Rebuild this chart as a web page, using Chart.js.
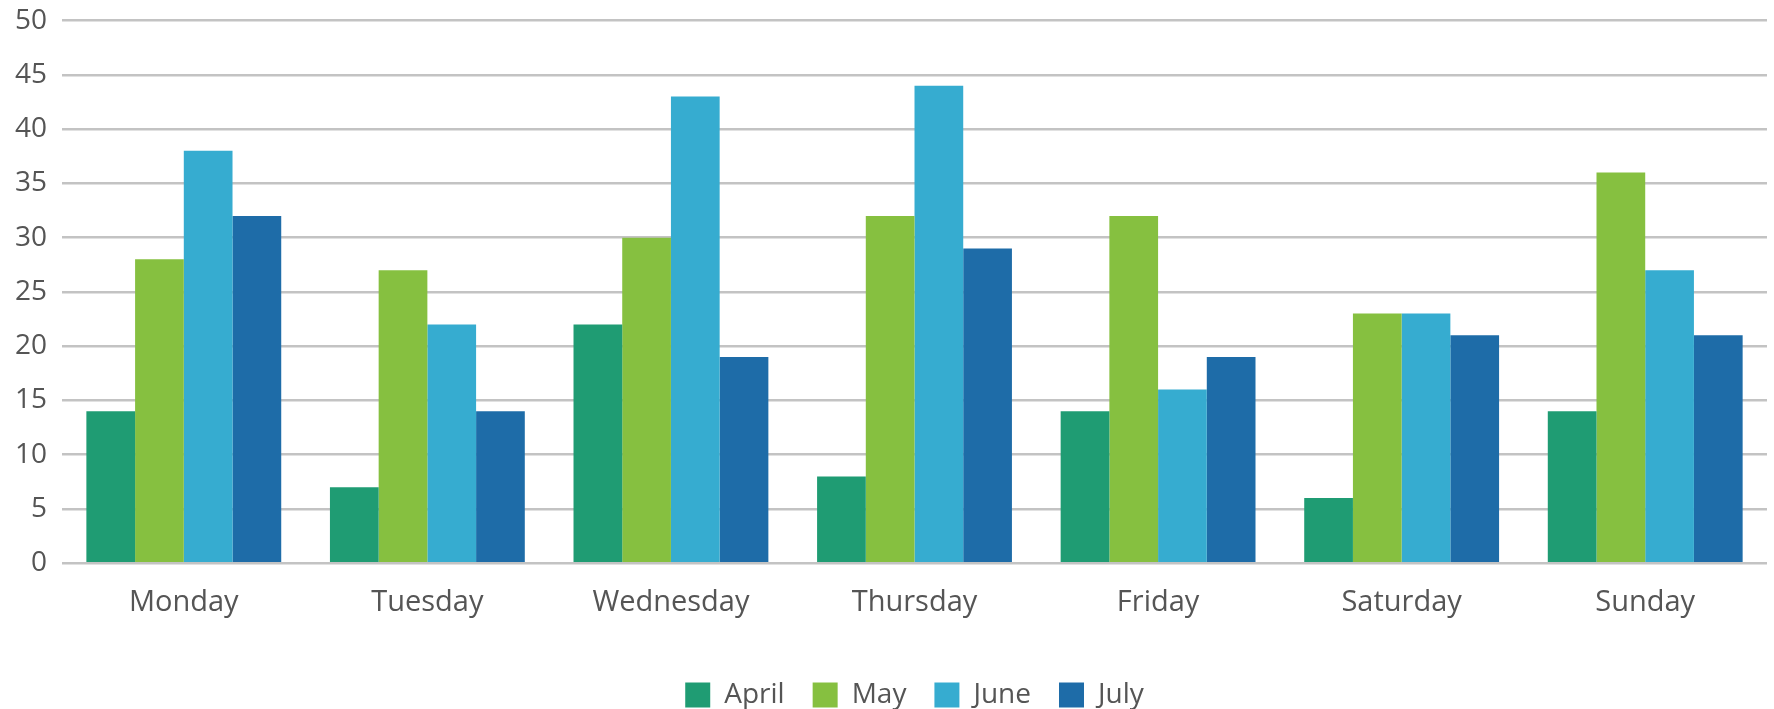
<!DOCTYPE html>
<html>
<head>
<meta charset="utf-8">
<script src="https://cdn.jsdelivr.net/npm/chart.js@4"></script>
<style>
  html, body { margin: 0; padding: 0; background: #fff; }
  #wrap { width: 1774px; height: 709px; }
</style>
</head>
<body>
<div id="wrap"><canvas id="grafico"></canvas></div>
<script>
// dados
const dias = ["Monday", "Tuesday", "Wednesday", "Thursday", "Friday", "Saturday", "Sunday"];
const abril = [14, 7, 22, 8, 14, 6, 14];
const maio = [28, 27, 30, 32, 32, 23, 36];
const junho = [38, 22, 43, 44, 16, 23, 27];
const julho = [32, 14, 19, 29, 19, 21, 21];

const cores = ["#1f9c73", "#86c040", "#36acd0", "#1e6ca8"];
const corTexto = "#555555";

const ctx = document.getElementById("grafico").getContext("2d");
new Chart(ctx, {
  type: "bar",
  data: {
    labels: dias,
    datasets: [
      { label: "April", data: abril, backgroundColor: cores[0] },
      { label: "May", data: maio, backgroundColor: cores[1] },
      { label: "June", data: junho, backgroundColor: cores[2] },
      { label: "July", data: julho, backgroundColor: cores[3] },
    ]
  },
  options: {
    responsive: true,
    maintainAspectRatio: false,
    animation: false,
    datasets: { bar: { barPercentage: 1, categoryPercentage: 0.8, borderWidth: 0 } },
    layout: { padding: { left: 0, right: 7, top: 0, bottom: -10 } },
    plugins: {
      tooltip: { enabled: false },
      legend: {
        position: "bottom",
        fullSize: false,
        labels: {
          color: corTexto,
          font: { family: "Open Sans", size: 28 },
          boxWidth: 25,
          boxHeight: 25,
          padding: 28,
        }
      }
    },
    scales: {
      x: {
        grid: { display: false },
        border: { display: false },
        ticks: { color: corTexto, font: { family: "Open Sans", size: 29 }, padding: 14 },
        // espaço extra entre os rótulos e a legenda
        afterFit: (scale) => { scale.height += 19; }
      },
      y: {
        min: 0,
        max: 50,
        ticks: { stepSize: 5, color: corTexto, font: { family: "Open Sans", size: 28, lineHeight: 0.4 }, padding: 15 },
        grid: { color: "#c3c3c3", lineWidth: 2.5, drawTicks: false },
        border: { display: false }
      }
    }
  }
});
</script>
</body>
</html>
